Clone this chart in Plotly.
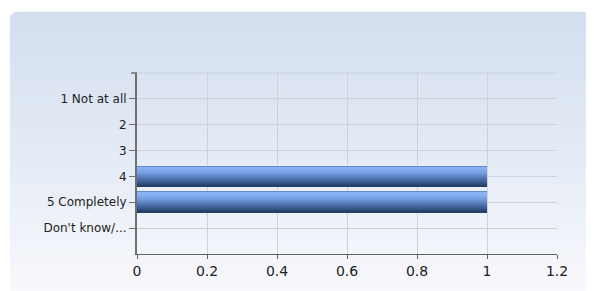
import plotly.graph_objects as go

categories = ["1 Not at all", "2", "3", "4", "5 Completely", "Don't know/..."]
values = [0, 0, 0, 1, 1, 0]
x_ticks = [0, 0.2, 0.4, 0.6, 0.8, 1, 1.2]

OFF = 8  # default page body margin
W, H = 594 - OFF, 291 - OFF
L, R, T, B = 137 - OFF, 557 - OFF, 73 - OFF, 256 - OFF


def px(x):
    return (x - OFF - L) / (R - L)


def py(y):
    return (B - (y - OFF)) / (B - T)


def lerp(c1, c2, t):
    a = [int(c1[i:i + 2], 16) for i in (1, 3, 5)]
    b = [int(c2[i:i + 2], 16) for i in (1, 3, 5)]
    return "#%02x%02x%02x" % tuple(round(a[k] + (b[k] - a[k]) * t) for k in range(3))


def grad(stops, t):
    for (t0, c0), (t1, c1) in zip(stops, stops[1:]):
        if t0 <= t <= t1:
            return lerp(c0, c1, (t - t0) / (t1 - t0) if t1 > t0 else 0)
    return stops[-1][1]


fig = go.Figure()

# bar with vertical gradient, drawn as overlaid strips of the same bars
bar_stops = [(0, "#4a78c4"), (0.08, "#8cb6f4"), (0.3, "#79a3e6"),
             (0.6, "#5478b6"), (0.88, "#30507f"), (1, "#22395f")]
N = 20
bw = 0.8
sw = bw / N
for i in range(N):
    col = grad(bar_stops, (i + 0.5) / N)
    fig.add_trace(go.Bar(
        x=values, y=categories, orientation="h",
        width=sw * 1.3 if i < N - 1 else sw,
        offset=-bw / 2 + i * sw,
        marker=dict(color=col, line=dict(width=0)),
        showlegend=False, hoverinfo="skip",
    ))

shapes = []
r = 8
# panel shadow
x0, x1, y0, y1 = 12, 592, 13, 330
shapes.append(dict(
    type="path", xref="paper", yref="paper", layer="below",
    path=(f"M {px(x0)},{py(y0 + r)} Q {px(x0)},{py(y0)} {px(x0 + r)},{py(y0)} "
          f"L {px(x1 - r)},{py(y0)} Q {px(x1)},{py(y0)} {px(x1)},{py(y0 + r)} "
          f"L {px(x1)},{py(y1)} L {px(x0)},{py(y1)} Z"),
    fillcolor="#c4c8ce", line=dict(width=0)))
# panel gradient
x0, x1, ytop = 10, 589, 11
bg_stops = [(0, "#d3deef"), (0.55, "#e6ecf6"), (1, "#f8f9fc")]
step = 5
ys = list(range(ytop, 300, step))
for j, y in enumerate(ys):
    col = grad(bg_stops, (y - ytop) / (291 - ytop))
    if j == 0:
        path = (f"M {px(x0)},{py(y + r + 1)} L {px(x0)},{py(y + r)} "
                f"Q {px(x0)},{py(y)} {px(x0 + r)},{py(y)} "
                f"L {px(x1 - r)},{py(y)} Q {px(x1)},{py(y)} {px(x1)},{py(y + r)} "
                f"L {px(x1)},{py(y + r + 1)} Z")
        shapes.append(dict(type="path", xref="paper", yref="paper", layer="below",
                           path=path, fillcolor=col, line=dict(width=0)))
    else:
        shapes.append(dict(type="rect", xref="paper", yref="paper", layer="below",
                           x0=px(x0), x1=px(x1), y0=py(y + step + 1), y1=py(y),
                           fillcolor=col, line=dict(width=0)))
# top grid line of plot area and its tick
shapes.append(dict(type="line", xref="paper", yref="paper", layer="below",
                   x0=0, x1=1, y0=1, y1=1, line=dict(color="#cdd2da", width=1)))
shapes.append(dict(type="line", xref="paper", yref="paper", layer="above",
                   x0=-6 / (R - L), x1=0, y0=1, y1=1, line=dict(color="#707070", width=1.5)))

fig.update_layout(
    width=W, height=H,
    margin=dict(l=L, r=W - R, t=T, b=H - B, pad=0),
    paper_bgcolor="white", plot_bgcolor="rgba(0,0,0,0)",
    barmode="overlay",
    shapes=shapes,
    font=dict(family="DejaVu Sans, Verdana, sans-serif", color="#222222"),
    xaxis=dict(range=[0, 1.2], tickvals=x_ticks, ticks="outside", ticklen=4,
               tickcolor="#606060", showline=True, linecolor="#606060", linewidth=1,
               showgrid=True, gridcolor="#cdd2da", gridwidth=1, zeroline=False,
               tickfont=dict(size=14, color="#222222"), fixedrange=True),
    yaxis=dict(type="category", categoryorder="array", categoryarray=categories,
               range=[6, -1], ticks="outside", ticklen=6, tickcolor="#707070",
               showline=True, linecolor="#707070", linewidth=2,
               showgrid=True, gridcolor="#cdd2da", gridwidth=1, zeroline=False,
               tickfont=dict(size=12, color="#222222"), fixedrange=True),
)

fig.write_html("out.html")
